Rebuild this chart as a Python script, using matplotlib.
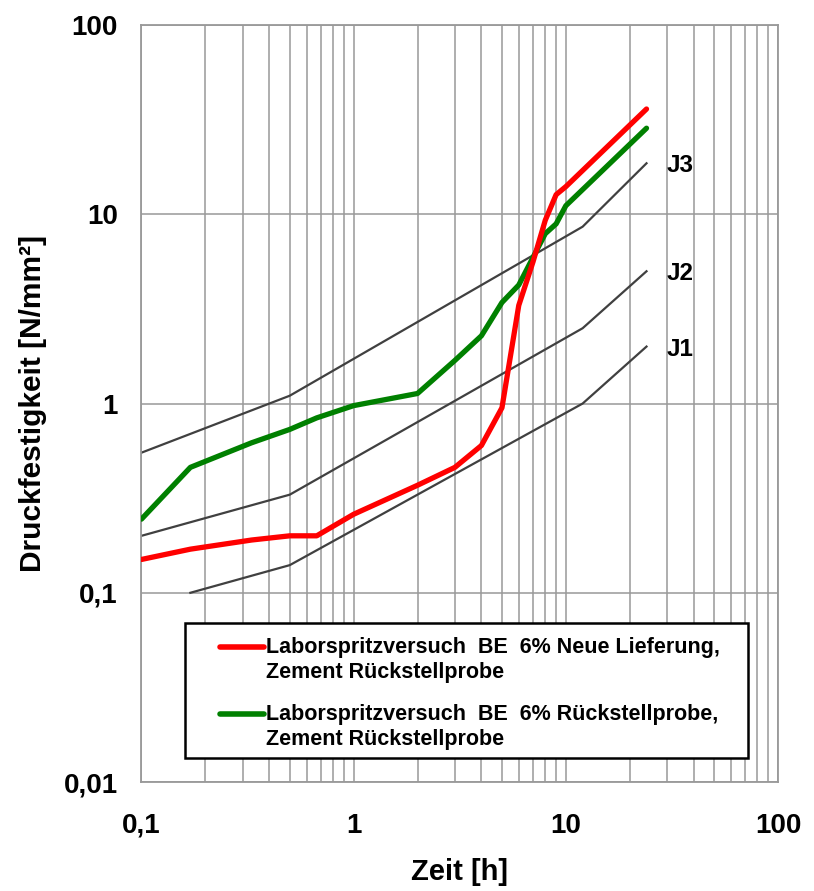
import matplotlib
matplotlib.use('Agg')
import matplotlib.pyplot as plt
from matplotlib.patches import Rectangle

plt.rcParams['font.family'] = ['Liberation Sans', 'DejaVu Sans']
plt.rcParams['font.weight'] = 'bold'

# measured series (time in h, strength in N/mm²)
red_t = [0.1, 0.17, 0.33, 0.5, 0.67, 1, 2, 3, 4, 5, 6, 7, 8, 9, 10, 24]
red_y = [0.15, 0.17, 0.19, 0.20, 0.20, 0.26, 0.37, 0.46, 0.60, 0.95, 3.3, 5.6, 9.3, 12.7, 14.0, 36]
red_label = ['Laborspritzversuch  BE  6% Neue Lieferung,', 'Zement Rückstellprobe']

green_t = [0.1, 0.17, 0.33, 0.5, 0.67, 1, 2, 3, 4, 5, 6, 8, 9, 10, 24]
green_y = [0.245, 0.46, 0.62, 0.73, 0.84, 0.975, 1.13, 1.69, 2.28, 3.42, 4.23, 7.9, 8.9, 11.1, 28.5]
green_label = ['Laborspritzversuch  BE  6% Rückstellprobe,', 'Zement Rückstellprobe']

# J-class boundary curves
j3_t = [0.1, 0.5, 12, 24]
j3_y = [0.55, 1.1, 8.6, 18.6]
j2_t = [0.1, 0.5, 12, 24]
j2_y = [0.2, 0.33, 2.5, 5.0]
j1_t = [0.17, 0.5, 12, 24]
j1_y = [0.1, 0.14, 1.0, 2.0]
j_names = ['J1', 'J2', 'J3']

x_ticks = [0.1, 1, 10, 100]
x_ticklabels = ['0,1', '1', '10', '100']
y_ticks = [0.01, 0.1, 1, 10, 100]
y_ticklabels = ['0,01', '0,1', '1', '10', '100']

fig = plt.figure(figsize=(8.14, 8.91), dpi=100)
ax = fig.add_axes([0.1738, 0.1223, 0.7820, 0.8496])
ax.set_xscale('log')
ax.set_yscale('log')
ax.set_xlim(0.1, 100)
ax.set_ylim(0.01, 100)

grid_kw = dict(color='#999999', lw=1.1)
ax.grid(which='both', axis='x', **grid_kw)
ax.grid(which='major', axis='y', **grid_kw)
ax.set_axisbelow(True)
for s in ax.spines.values():
    s.set_color('#999999')
    s.set_linewidth(1.3)

ax.set_xticks(x_ticks)
ax.set_xticklabels(x_ticklabels)
ax.set_yticks(y_ticks)
ax.set_yticklabels(y_ticklabels)
ax.minorticks_off()
ax.xaxis.set_minor_locator(matplotlib.ticker.LogLocator(base=10, subs=range(2, 10)))
ax.tick_params(which='both', length=0, labelsize=20)
ax.tick_params(axis='x', pad=22)
ax.tick_params(axis='y', pad=17)

# boundary curves and their labels
for jt, jy, name in zip([j1_t, j2_t, j3_t], [j1_y, j2_y, j3_y], j_names):
    ax.plot(jt, jy, color='#404040', lw=1.6)
    ax.text(30, jy[-1] * 0.97, name, fontsize=17.5, fontweight='bold',
            ha='left', va='center')

ax.plot(red_t, red_y, color='#ff0000', lw=3.8, solid_capstyle='round', zorder=4)
ax.plot(green_t, green_y, color='#008000', lw=3.8, solid_capstyle='round', zorder=3)

ax.set_xlabel('Zeit [h]', fontsize=21, fontweight='bold', labelpad=14)
ax.set_ylabel('Druckfestigkeit [N/mm²]', fontsize=21.5, fontweight='bold', labelpad=12)

# legend box drawn by hand so the handle sits on the first text line
ax.add_patch(Rectangle((0.068, 0.032), 0.885, 0.178, transform=ax.transAxes,
                       facecolor='white', edgecolor='black', lw=1.8, zorder=5))
for y0, col, lines in [(0.178, '#ff0000', red_label), (0.0898, '#008000', green_label)]:
    ax.plot([0.123, 0.192], [y0, y0], transform=ax.transAxes, color=col,
            lw=4, solid_capstyle='round', zorder=6, clip_on=False)
    for i, line in enumerate(lines):
        ax.text(0.196, y0 - i * 0.033, line, transform=ax.transAxes,
                fontsize=15.5, fontweight='bold', ha='left', va='center', zorder=7)

fig.savefig('out.png', dpi=100)
